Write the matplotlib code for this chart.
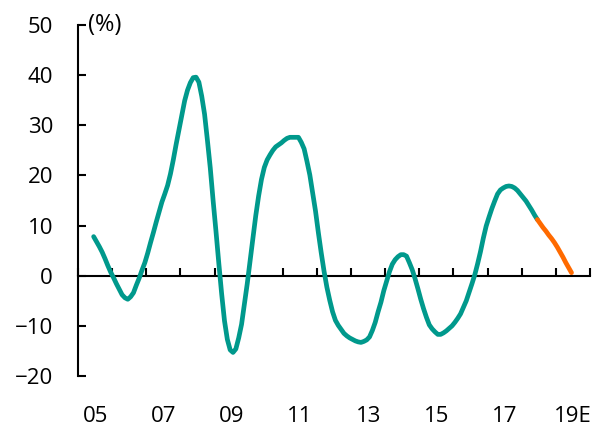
import numpy as np
import pandas as pd
import matplotlib
matplotlib.use("Agg")
import matplotlib.pyplot as plt
from matplotlib.ticker import FixedLocator, FixedFormatter, NullFormatter

plt.rcParams['font.family'] = ['Open Sans', 'DejaVu Sans']

# ---- data (monthly, % YoY) ----
actual_start = "2005-06"
actual_values = [
    7.8, 6.8, 5.8, 4.7, 3.4, 2.0, 0.7,                                        # 2005 Jun-Dec
    -0.4, -1.6, -2.7, -3.8, -4.4, -4.7, -4.2, -3.4, -1.9, -0.5, 1.1, 2.6,    # 2006
    4.5, 6.6, 8.6, 10.7, 12.7, 14.7, 16.3, 18.0, 20.3, 23.1, 26.2, 29.1,     # 2007
    31.9, 34.9, 37.0, 38.5, 39.5, 39.6, 38.6, 35.8, 32.2, 27.0, 21.5, 15.0,  # 2008
    8.9, 2.5, -3.6, -9.0, -12.7, -14.8, -15.3, -14.6, -12.4, -9.7, -5.7, -1.6,  # 2009
    3.0, 7.5, 12.0, 15.9, 19.2, 21.6, 23.1, 24.1, 25.0, 25.7, 26.1, 26.5,    # 2010
    27.0, 27.4, 27.6, 27.6, 27.6, 27.6, 26.6, 25.3, 22.8, 20.1, 16.5, 12.9,  # 2011
    8.6, 4.6, 0.9, -2.3, -4.9, -7.2, -8.9, -9.9, -10.7, -11.5, -12.0, -12.4, # 2012
    -12.7, -13.0, -13.2, -13.3, -13.1, -12.8, -12.2, -10.9, -9.3, -7.2, -5.3, -3.0,  # 2013
    -1.1, 0.8, 2.3, 3.2, 3.8, 4.2, 4.2, 3.9, 2.6, 1.2, -0.6, -2.6,           # 2014
    -4.7, -6.6, -8.3, -9.8, -10.6, -11.2, -11.7, -11.7, -11.4, -11.0, -10.5, -10.0,  # 2015
    -9.3, -8.5, -7.6, -6.3, -5.0, -3.3, -1.6, 0.2, 2.4, 4.8, 7.5, 9.9,      # 2016
    11.7, 13.4, 14.9, 16.3, 17.1, 17.5, 17.8, 17.9, 17.8, 17.5, 17.0, 16.3,  # 2017
    15.6, 14.9, 14.0, 13.1, 12.1, 11.2,                                       # 2018 Jan-Jun
]
forecast_start = "2018-06"
forecast_values = [11.2, 10.4, 9.6, 8.9, 8.1, 7.4, 6.6, 5.7, 4.7, 3.7, 2.6, 1.6, 0.6]

year_ticks = list(range(2005, 2021))
label_years = [2005, 2007, 2009, 2011, 2013, 2015, 2017, 2019]
x_labels = ["05", "07", "09", "11", "13", "15", "17", "19E"]
y_ticks = [-20, -10, 0, 10, 20, 30, 40, 50]
y_labels = ["\u221220", "\u221210", "0", "10", "20", "30", "40", "50"]
unit_label = "(%)"

TEAL = "#00998C"
ORANGE = "#FF6A00"


def month_positions(start, n):
    p = pd.period_range(start, periods=n, freq="M")
    return np.asarray(p.year) + (np.asarray(p.month) - 0.5) / 12.0


fig = plt.figure(figsize=(5.98, 4.30), dpi=100)
ax = fig.add_axes([78 / 598, (430 - 376) / 430, (590 - 78) / 598, (376 - 25) / 430])

xa = month_positions(actual_start, len(actual_values))
xf = month_positions(forecast_start, len(forecast_values))
ax.plot(xa, actual_values, color=TEAL, lw=3.4, solid_capstyle="round",
        solid_joinstyle="round", zorder=3)
ax.plot(xf, forecast_values, color=ORANGE, lw=3.4, solid_capstyle="round",
        solid_joinstyle="round", zorder=3)

ax.set_xlim(2005, 2020)
ax.set_ylim(-20, 50)

for s in ["top", "right"]:
    ax.spines[s].set_visible(False)
ax.spines["left"].set_linewidth(1.5)
ax.spines["bottom"].set_linewidth(1.5)
ax.spines["bottom"].set_position(("data", 0))

ax.yaxis.set_major_locator(FixedLocator(y_ticks))
ax.yaxis.set_major_formatter(FixedFormatter(y_labels))
ax.tick_params(axis="y", direction="in", length=6, width=1.5, pad=18,
               labelsize=16, colors="black")

ax.xaxis.set_major_locator(FixedLocator(year_ticks))
ax.xaxis.set_major_formatter(NullFormatter())
ax.xaxis.set_minor_locator(FixedLocator([y + 0.5 for y in label_years]))
ax.xaxis.set_minor_formatter(FixedFormatter(x_labels))
ax.tick_params(axis="x", which="major", direction="in", length=6, width=1.5)
ax.tick_params(axis="x", which="minor", length=0, pad=94, labelsize=16)

ax.text(2005.3, 50, unit_label, fontsize=17, ha="left", va="center")

fig.savefig("out.png", dpi=100)
